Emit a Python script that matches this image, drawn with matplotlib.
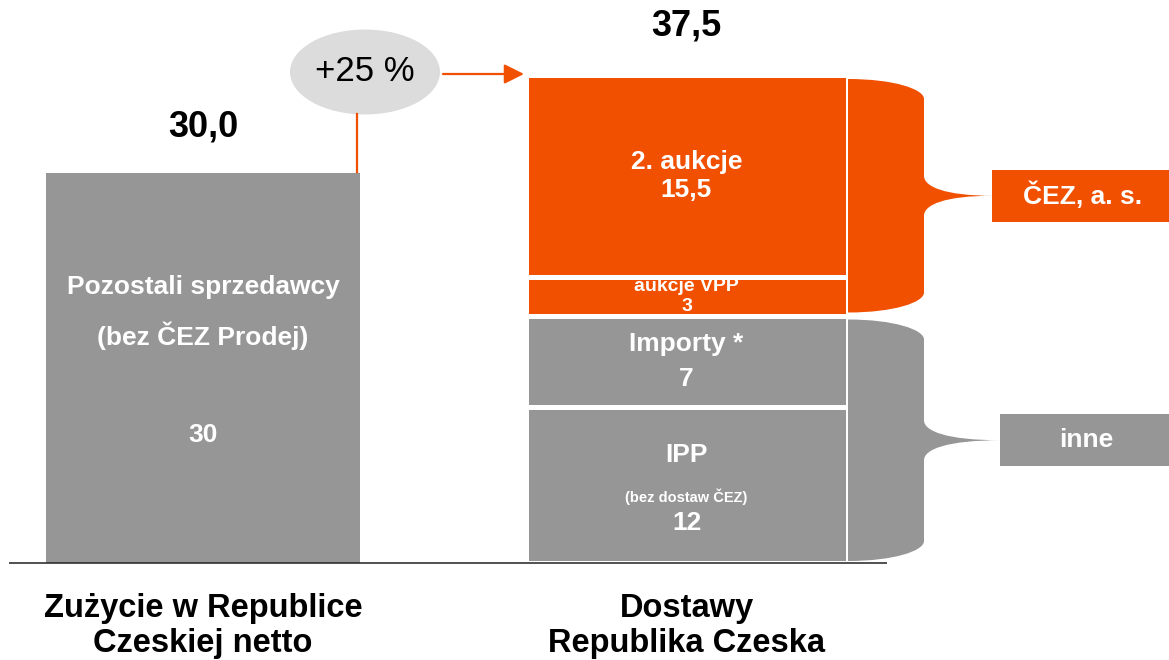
import numpy as np
import matplotlib.pyplot as plt
from matplotlib.patches import Ellipse, Rectangle, PathPatch
from matplotlib.path import Path

plt.rcParams['font.family'] = ['Liberation Sans', 'DejaVu Sans']

# Data
categories = ['Zużycie w Republice\nCzeskiej netto', 'Dostawy\nRepublika Czeska']
consumption = 30.0
consumption_lines = ['Pozostali sprzedawcy', '(bez ČEZ Prodej)', '30']
supply_names = ['IPP', 'Importy *', 'aukcje VPP', '2. aukcje']
supply_values = [12, 7, 3, 15.5]
supply_groups = ['inne', 'inne', 'ČEZ, a. s.', 'ČEZ, a. s.']

ORANGE = '#F05000'
GREY = '#969696'
supply_colors = [GREY, GREY, ORANGE, ORANGE]
group_colors = {'ČEZ, a. s.': ORANGE, 'inne': GREY}

def fmt(v):
    return f'{v:.1f}'.replace('.', ',')

# Canvas: x in pixels, y in data units (13 px per unit, baseline at 563 px)
PX = 13.0
fig = plt.figure(figsize=(11.69, 6.6), dpi=100)
ax = fig.add_axes([0, 0, 1, 1])
ax.set_xlim(0, 1169)
ax.set_ylim(-97 / PX, 563 / PX)
ax.axis('off')

x_left, x_right = 203, 686.5

# left bar
ax.bar(x_left, consumption, width=314, color=GREY, linewidth=0)
for txt, y in zip(consumption_lines, [21.2, 17.45, 9.85]):
    ax.text(x_left, y, txt, ha='center', va='center', color='white',
            fontsize=19, fontweight='bold')

# right stacked bar
bottoms = np.concatenate([[0], np.cumsum(supply_values)[:-1]])
ax.bar(x_right, supply_values, bottom=bottoms, width=322, color=supply_colors,
       edgecolor='white', linewidth=3.6)
total = float(np.sum(supply_values))
tops = bottoms + np.array(supply_values)

# segment labels: (text, fontsize, linespacing, offset in px from segment middle)
seg_text = {
    '2. aukcje': [(f'2. aukcje\n{fmt(15.5)}', 19, 1.23, 0)],
    'aukcje VPP': [('aukcje VPP\n3', 14, 1.2, 0)],
    'Importy *': [('Importy *\n7', 19, 1.6, 0)],
    'IPP': [('IPP', 19, 1.0, 30), ('(bez dostaw ČEZ)', 10.5, 1.0, -12),
            ('12', 19, 1.0, -38)],
}
for name, v, b in zip(supply_names, supply_values, bottoms):
    mid = b + v / 2
    for txt, fs, ls, o in seg_text[name]:
        ax.text(x_right, mid + o / PX, txt, ha='center', va='center',
                color='white', fontsize=fs, fontweight='bold', linespacing=ls)

# baseline
ax.plot([9, 887], [0, 0], color='#222222', lw=1.1, solid_capstyle='butt')

# value labels
ax.text(x_left, consumption + 3.5, fmt(consumption), ha='center', va='center',
        fontsize=26, fontweight='bold')
ax.text(x_right, total + 3.8, fmt(total), ha='center', va='center',
        fontsize=26, fontweight='bold')

# category labels
for x, lab in zip([x_left, x_right], categories):
    ax.text(x, -63 / PX, lab, ha='center', va='center', fontsize=23.5,
            fontweight='bold', linespacing=1.15)

# growth bubble
growth = (total / consumption - 1) * 100
ey = (563 - 72) / PX
eh = 85 / PX
ax.add_patch(Ellipse((365, ey), 150, eh, color='#DCDCDC', lw=0))
ax.text(365, ey, f'+{growth:.0f} %', ha='center', va='center', fontsize=25)
ax.plot([357, 357], [consumption + 0.1, ey - eh / 2], color=ORANGE, lw=1.6)
ay = ey - 2 / PX
ax.annotate('', xy=(524, ay), xytext=(443, ay),
            arrowprops=dict(arrowstyle='-|>', color=ORANGE, lw=1.6,
                            mutation_scale=30, shrinkA=0, shrinkB=0))


# braces
def brace(x0, x1, xt, yb, yt):
    dc = 20 / PX
    dm = 20 / PX
    ym = (yb + yt) / 2
    w = x1 - x0
    verts = [(x0, yb), (x0, yt),
             (x0 + 0.6 * w, yt), (x1, yt - 0.5 * dc), (x1, yt - dc),
             (x1, ym + dm),
             (x1, ym + 0.45 * dm), (x1 + 0.3 * (xt - x1), ym), (xt, ym),
             (x1 + 0.3 * (xt - x1), ym), (x1, ym - 0.45 * dm), (x1, ym - dm),
             (x1, yb + dc),
             (x1, yb + 0.5 * dc), (x0 + 0.6 * w, yb), (x0, yb),
             (x0, yb)]
    codes = [Path.MOVETO, Path.LINETO,
             Path.CURVE4, Path.CURVE4, Path.CURVE4,
             Path.LINETO,
             Path.CURVE4, Path.CURVE4, Path.CURVE4,
             Path.CURVE4, Path.CURVE4, Path.CURVE4,
             Path.LINETO,
             Path.CURVE4, Path.CURVE4, Path.CURVE4,
             Path.CLOSEPOLY]
    return Path(verts, codes), ym


gap = 3.5 / PX
for grp, xt in [('ČEZ, a. s.', 992), ('inne', 1000)]:
    idx = [i for i, g in enumerate(supply_groups) if g == grp]
    yb = bottoms[min(idx)] + (gap if min(idx) > 0 else 2 / PX)
    yt = tops[max(idx)] - gap
    path, ym = brace(848, 924, xt + 1, yb, yt)
    ax.add_patch(PathPatch(path, facecolor=group_colors[grp], lw=0))
    ax.add_patch(Rectangle((xt, ym - 2), 1169 - xt, 4, facecolor=group_colors[grp], lw=0))
    ax.text((xt + 1169) / 2 + 2, ym, grp, ha='center', va='center', color='white',
            fontsize=19, fontweight='bold')

fig.savefig('out.png', dpi=100)
